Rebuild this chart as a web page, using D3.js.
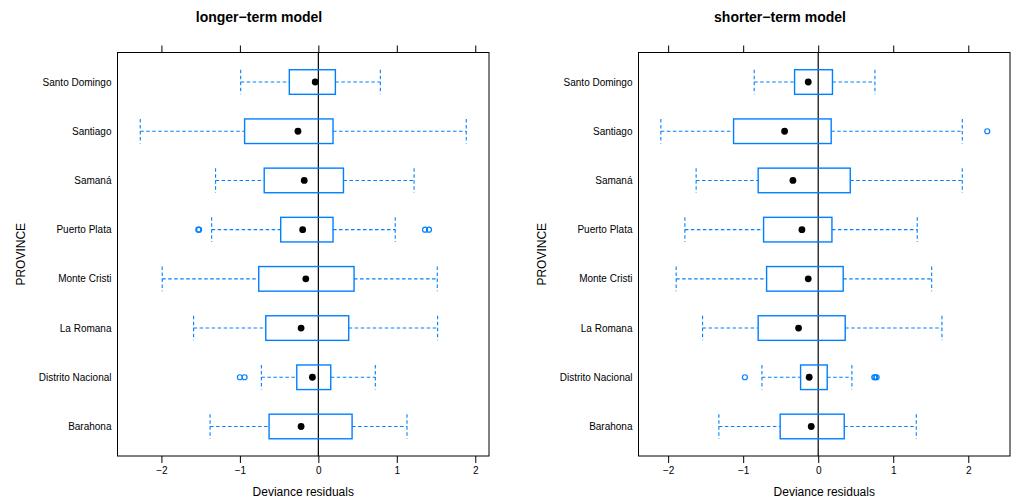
<!DOCTYPE html>
<html>
<head>
<meta charset="utf-8">
<script src="https://cdn.jsdelivr.net/npm/d3@7"></script>
<style>
  html, body { margin: 0; padding: 0; background: #fff; }
  svg { display: block; font-family: "Liberation Sans", Arial, Helvetica, sans-serif; }
</style>
</head>
<body>
<svg id="chart" width="1011" height="499"></svg>
<script>
// Provinces, bottom row first
const provinces = ["Barahona", "Distrito Nacional", "La Romana", "Monte Cristi",
                   "Puerto Plata", "Samaná", "Santiago", "Santo Domingo"];

// Deviance residual box summaries, longer-term model
const longLow    = [-1.38, -0.726, -1.59, -1.99, -1.36, -1.31, -2.27, -0.99];
const longQ1     = [-0.628, -0.275, -0.67, -0.76, -0.48, -0.69, -0.94, -0.37];
const longMedian = [-0.22, -0.076, -0.22, -0.16, -0.20, -0.18, -0.26, -0.04];
const longQ3     = [0.43, 0.158, 0.387, 0.455, 0.187, 0.32, 0.187, 0.217];
const longHigh   = [1.13, 0.726, 1.52, 1.516, 0.98, 1.22, 1.885, 0.79];
const longOutliers = [[], [-1.0, -0.94], [], [], [-1.53, -1.52, 1.36, 1.41], [], [], []];

// Deviance residual box summaries, shorter-term model
const shortLow    = [-1.324, -0.75, -1.541, -1.893, -1.777, -1.627, -2.097, -0.853];
const shortQ1     = [-0.507, -0.235, -0.80, -0.688, -0.728, -0.80, -1.128, -0.315];
const shortMedian = [-0.093, -0.12, -0.262, -0.133, -0.217, -0.337, -0.448, -0.133];
const shortQ3     = [0.347, 0.12, 0.36, 0.333, 0.183, 0.427, 0.173, 0.19];
const shortHigh   = [1.307, 0.449, 1.649, 1.512, 1.32, 1.92, 1.92, 0.756];
const shortOutliers = [[], [-0.977, 0.747, 0.762, 0.778], [], [], [], [], [2.253], []];

const xTicks = [-2, -1, 0, 1, 2];

const panels = [
  { title: "longer\u2212term model", x0: 117.5, x1: 489, domain: [-2.56, 2.175], titleX: 259, labelX: 21,
    low: longLow, q1: longQ1, med: longMedian, q3: longQ3, high: longHigh, out: longOutliers },
  { title: "shorter\u2212term model", x0: 638.5, x1: 1010, domain: [-2.395, 2.556], titleX: 780, labelX: 542,
    low: shortLow, q1: shortQ1, med: shortMedian, q3: shortQ3, high: shortHigh, out: shortOutliers }
];

const plotTop = 52.5, plotBottom = 456;
const blue = "#0080ff";
const svg = d3.select("#chart");

const y = d3.scaleLinear().domain([0.4, provinces.length + 0.6]).range([plotBottom, plotTop]);
const halfBox = 0.25;

panels.forEach(p => {
  const x = d3.scaleLinear().domain(p.domain).range([p.x0, p.x1]);
  const g = svg.append("g");

  // title
  g.append("text").attr("x", p.titleX).attr("y", 22).attr("text-anchor", "middle")
    .attr("font-size", 14).attr("font-weight", "bold").attr("fill", "#000").text(p.title);

  // zero reference line
  g.append("line").attr("x1", x(0)).attr("x2", x(0)).attr("y1", plotTop).attr("y2", plotBottom)
    .attr("stroke", "#000").attr("stroke-width", 1.2);

  const rows = provinces.map((name, i) => ({
    name, pos: i + 1, low: p.low[i], q1: p.q1[i], med: p.med[i], q3: p.q3[i], high: p.high[i], out: p.out[i]
  }));

  const row = g.selectAll("g.row").data(rows).join("g").attr("class", "row");

  // whiskers
  row.append("line").attr("x1", d => x(d.low)).attr("x2", d => x(d.q1))
    .attr("y1", d => y(d.pos)).attr("y2", d => y(d.pos));
  row.append("line").attr("x1", d => x(d.q3)).attr("x2", d => x(d.high))
    .attr("y1", d => y(d.pos)).attr("y2", d => y(d.pos));
  row.append("line").attr("x1", d => x(d.low)).attr("x2", d => x(d.low))
    .attr("y1", d => y(d.pos + halfBox)).attr("y2", d => y(d.pos - halfBox));
  row.append("line").attr("x1", d => x(d.high)).attr("x2", d => x(d.high))
    .attr("y1", d => y(d.pos + halfBox)).attr("y2", d => y(d.pos - halfBox));
  row.selectAll("line").attr("stroke", blue).attr("stroke-width", 1.1).attr("stroke-dasharray", "3.5,2.5");

  // boxes
  row.append("rect")
    .attr("x", d => x(d.q1)).attr("width", d => x(d.q3) - x(d.q1))
    .attr("y", d => y(d.pos + halfBox)).attr("height", d => y(d.pos - halfBox) - y(d.pos + halfBox))
    .attr("fill", "none").attr("stroke", blue).attr("stroke-width", 1.4);

  // medians
  row.append("circle").attr("cx", d => x(d.med)).attr("cy", d => y(d.pos)).attr("r", 3.4).attr("fill", "#000");

  // outliers
  row.selectAll("circle.out").data(d => d.out.map(v => ({ v, pos: d.pos }))).join("circle")
    .attr("class", "out").attr("cx", d => x(d.v)).attr("cy", d => y(d.pos)).attr("r", 2.5)
    .attr("fill", "none").attr("stroke", blue).attr("stroke-width", 1.2);

  // province labels
  g.selectAll("text.prov").data(rows).join("text").attr("class", "prov")
    .attr("x", p.x0 - 6).attr("y", d => y(d.pos)).attr("dy", "0.35em")
    .attr("text-anchor", "end").attr("font-size", 10).attr("fill", "#000").text(d => d.name);

  // axes on top and bottom
  const axB = g.append("g").attr("transform", `translate(0,${plotBottom})`)
    .call(d3.axisBottom(x).tickValues(xTicks).tickSize(7).tickPadding(4)
      .tickFormat(v => v < 0 ? "\u2212" + Math.abs(v) : String(v)));
  const axT = g.append("g").attr("transform", `translate(0,${plotTop})`)
    .call(d3.axisTop(x).tickValues(xTicks).tickSize(7).tickFormat(""));
  [axB, axT].forEach(a => {
    a.select(".domain").remove();
    a.selectAll("line").attr("stroke", "#000");
    a.selectAll("text").attr("font-size", 10).attr("fill", "#000")
      .attr("font-family", "'Liberation Sans', Arial, sans-serif");
  });

  // frame
  g.append("rect").attr("x", p.x0).attr("y", plotTop).attr("width", p.x1 - p.x0).attr("height", plotBottom - plotTop)
    .attr("fill", "none").attr("stroke", "#000").attr("stroke-width", 1);

  // axis titles
  g.append("text").attr("x", (p.x0 + p.x1) / 2).attr("y", 496).attr("text-anchor", "middle")
    .attr("font-size", 12).attr("fill", "#000").text("Deviance residuals");
  g.append("text").attr("transform", `translate(${p.labelX + 4},${(plotTop + plotBottom) / 2}) rotate(-90)`)
    .attr("text-anchor", "middle").attr("font-size", 12).attr("fill", "#000").text("PROVINCE");
});
</script>
</body>
</html>
